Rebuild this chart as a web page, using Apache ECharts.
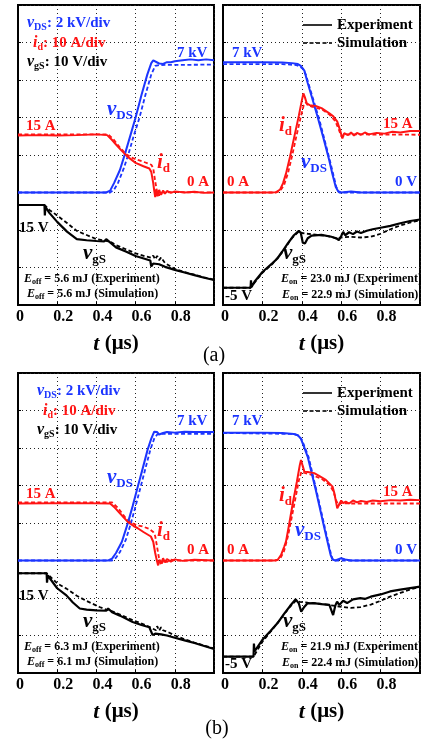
<!DOCTYPE html>
<html>
<head>
<meta charset="utf-8">
<script src="https://cdn.jsdelivr.net/npm/echarts@6/dist/echarts.min.js"></script>
<style>
  html, body { margin: 0; padding: 0; background: #fff; }
  #chart { width: 421px; height: 743px; }
</style>
</head>
<body>
<div id="chart"></div>
<script>
// ---- Waveform data: [time (µs), value] ----
// (a) turn-off: vDS in kV, id in A, vgS in V
const aOffVdsExp = [[0,0],[0.45,0],[0.47,0.1],[0.49,0.5],[0.52,1.2],[0.547,2.1],[0.575,3.1],[0.60,4.0],[0.63,5.2],[0.66,6.3],[0.68,6.9],[0.69,7.05],[0.70,7.0],[0.72,6.88],[0.74,6.86],[0.76,6.95],[0.78,6.95],[0.8,7.0],[0.84,7.05],[0.88,7.1],[0.92,7.05],[0.96,7.1],[1,7.05]];
const aOffVdsSim = [[0,0],[0.47,0],[0.49,0.15],[0.51,0.5],[0.54,1.3],[0.565,2.1],[0.59,3.0],[0.62,4.0],[0.65,5.2],[0.68,6.3],[0.70,6.75],[0.72,6.8],[1,6.82]];
const aOffIdExp = [[0,15.2],[0.1,15.3],[0.2,15.2],[0.3,15.3],[0.4,15.5],[0.455,15.3],[0.48,14],[0.5,12.8],[0.526,11.3],[0.56,9.5],[0.60,7.9],[0.64,7.0],[0.67,6.4],[0.68,5.5],[0.69,2.5],[0.695,0.5],[0.70,-1.2],[0.705,0.8],[0.712,-1.0],[0.72,0.7],[0.73,-0.6],[0.74,0.5],[0.75,-0.3],[0.76,0.4],[0.78,-0.1],[0.8,0.3],[0.85,0],[0.9,0.2],[0.95,-0.1],[1,0]];
const aOffIdSim = [[0,15.5],[0.46,15.5],[0.49,14],[0.52,12],[0.55,10.3],[0.58,9.3],[0.61,8.7],[0.65,8.0],[0.68,7.4],[0.69,6.5],[0.70,3],[0.71,0],[0.72,-0.8],[0.735,0.4],[0.75,-0.2],[0.77,0.1],[1,0]];
const aOffVgsExp = [[0,15],[0.135,15],[0.137,12.2],[0.14,14.5],[0.16,12.9],[0.2,10.5],[0.25,7.9],[0.3,5.9],[0.35,5.6],[0.4,5.4],[0.44,5.3],[0.45,5.9],[0.46,5.4],[0.5,3.7],[0.55,2.6],[0.6,1.4],[0.65,0.6],[0.675,0.2],[0.68,-1.4],[0.69,-0.6],[0.70,-1.0],[0.72,-0.8],[0.75,-1.5],[0.8,-2.3],[0.85,-3.0],[0.9,-3.7],[0.95,-4.4],[1,-5.0]];
const aOffVgsSim = [[0,15],[0.135,15],[0.14,14.6],[0.16,13.7],[0.2,12.2],[0.25,10.2],[0.3,8.1],[0.35,7.0],[0.4,5.9],[0.44,5.5],[0.45,5.8],[0.47,5.2],[0.5,4.3],[0.55,3.2],[0.6,2.1],[0.65,1.3],[0.68,0.9],[0.69,1.5],[0.70,0.5],[0.71,1.4],[0.72,0.3],[0.73,1.0],[0.75,-0.5],[0.8,-2.0],[0.85,-2.9],[0.9,-3.6],[0.95,-4.3],[1,-4.9]];

// (a) turn-on
const aOnVdsExp = [[0,6.95],[0.2,6.95],[0.3,6.93],[0.35,6.9],[0.38,6.85],[0.395,6.75],[0.413,6.5],[0.43,5.84],[0.455,4.95],[0.48,4.04],[0.51,2.9],[0.539,1.73],[0.555,1.0],[0.572,0.31],[0.585,0.05],[0.6,0],[0.65,0.05],[0.7,0],[1,0]];
const aOnVdsSim = [[0,6.85],[0.3,6.85],[0.37,6.8],[0.39,6.72],[0.405,6.6],[0.42,6.3],[0.44,5.6],[0.49,3.85],[0.545,1.6],[0.575,0.3],[0.59,0],[1,0]];
const aOnIdExp = [[0,0],[0.25,0],[0.27,0.1],[0.29,0.8],[0.305,2.5],[0.32,5.1],[0.34,9.5],[0.362,14.9],[0.385,20.5],[0.40,24.5],[0.408,26.4],[0.415,25.5],[0.425,23.8],[0.44,23.3],[0.47,23.1],[0.50,22.5],[0.54,21.1],[0.56,20.3],[0.58,18.9],[0.595,16.5],[0.606,14.4],[0.615,15.8],[0.625,16.2],[0.635,15.3],[0.65,16.0],[0.665,15.2],[0.68,15.9],[0.70,15.4],[0.72,16.0],[0.74,15.5],[0.78,15.9],[0.82,15.7],[0.86,16.2],[0.9,16.0],[0.95,16.4],[1,16.4]];
const aOnIdSim = [[0,0],[0.27,0],[0.29,0.4],[0.31,2.0],[0.33,5.2],[0.35,9.6],[0.372,14.9],[0.395,20.2],[0.41,23.3],[0.42,24.0],[0.43,23.3],[0.45,22.9],[0.5,22.2],[0.54,20.8],[0.57,19.0],[0.59,16.5],[0.60,15.0],[0.61,15.2],[0.63,15.5],[1,15.4]];
const aOnVgsExp = [[0,-5],[0.14,-5],[0.142,-3],[0.145,-4.8],[0.16,-3.4],[0.2,-0.8],[0.25,1.5],[0.276,2.8],[0.3,4.6],[0.33,6.9],[0.36,9.0],[0.385,10.2],[0.395,9.6],[0.405,7.0],[0.416,6.8],[0.43,8.2],[0.45,8.9],[0.5,9.1],[0.55,8.6],[0.575,8.2],[0.588,7.7],[0.6,8.8],[0.61,9.9],[0.62,9.0],[0.64,9.8],[0.66,9.3],[0.68,10.0],[0.7,9.6],[0.73,10.2],[0.76,10.6],[0.8,11.0],[0.85,11.5],[0.9,12.2],[0.95,12.8],[1,13.2]];
const aOnVgsSim = [[0,-5],[0.14,-5],[0.145,-4.5],[0.2,-1.0],[0.25,1.3],[0.3,4.4],[0.35,8.3],[0.385,10.0],[0.4,9.6],[0.43,9.4],[0.5,9.0],[0.55,8.6],[0.58,8.0],[0.6,8.4],[0.65,8.6],[0.7,8.4],[0.75,8.6],[0.8,9.4],[0.85,10.6],[0.9,11.6],[0.95,12.4],[1,13.0]];

// (b) turn-off
const bOffVdsExp = [[0,0],[0.46,0],[0.48,0.1],[0.50,0.4],[0.53,1.0],[0.56,1.98],[0.585,2.9],[0.611,3.93],[0.636,4.9],[0.661,5.9],[0.68,6.5],[0.695,6.87],[0.71,6.85],[0.72,6.72],[0.74,6.8],[0.76,6.85],[0.8,6.82],[0.85,6.87],[0.9,6.85],[1,6.85]];
const bOffVdsSim = [[0,0],[0.48,0],[0.50,0.15],[0.52,0.45],[0.55,1.1],[0.575,1.95],[0.60,2.9],[0.625,3.9],[0.65,4.9],[0.675,5.9],[0.695,6.5],[0.71,6.72],[0.73,6.75],[1,6.75]];
const bOffIdExp = [[0,15.2],[0.3,15.3],[0.47,15.2],[0.49,14.3],[0.52,12.6],[0.56,10.3],[0.59,9.2],[0.611,8.6],[0.64,7.6],[0.678,6.4],[0.69,5.0],[0.70,2.0],[0.707,0.3],[0.715,-1.3],[0.722,0.2],[0.73,-0.8],[0.74,0.6],[0.75,-0.5],[0.76,0.4],[0.78,-0.3],[0.8,0.3],[0.84,-0.1],[0.9,0.2],[1,0]];
const bOffIdSim = [[0,15.5],[0.48,15.5],[0.51,14],[0.55,11.3],[0.58,10.0],[0.61,9.4],[0.64,9.0],[0.67,8.4],[0.69,7.6],[0.70,6.5],[0.71,3.5],[0.72,0.5],[0.73,-1.2],[0.745,0.3],[0.76,-0.4],[0.78,0.2],[0.8,0],[1,0]];
const bOffVgsExp = [[0,15],[0.146,15],[0.148,12.5],[0.152,14.4],[0.18,12.4],[0.2,11.0],[0.247,9.1],[0.28,7.2],[0.315,5.6],[0.35,5.3],[0.4,5.1],[0.45,5.0],[0.46,5.6],[0.48,4.6],[0.52,3.7],[0.585,2.0],[0.63,1.2],[0.67,0.6],[0.687,-1.5],[0.70,-1.1],[0.73,-1.3],[0.76,-1.6],[0.8,-2.2],[0.85,-2.9],[0.9,-3.6],[0.95,-4.4],[1,-5.2]];
const bOffVgsSim = [[0,15],[0.146,15],[0.15,14.5],[0.2,12.3],[0.247,10.9],[0.3,9.0],[0.35,7.6],[0.416,6.0],[0.45,5.3],[0.46,5.8],[0.467,5.1],[0.52,4.0],[0.585,2.5],[0.65,1.2],[0.704,-0.2],[0.71,0.9],[0.72,-0.3],[0.73,0.6],[0.74,-0.2],[0.75,0.3],[0.77,-0.8],[0.8,-1.6],[0.85,-2.6],[0.9,-3.5],[0.95,-4.3],[1,-5.0]];

// (b) turn-on
const bOnVdsExp = [[0,6.82],[0.2,6.82],[0.3,6.8],[0.36,6.75],[0.38,6.68],[0.395,6.5],[0.41,6.1],[0.43,5.53],[0.471,3.76],[0.513,1.8],[0.535,0.8],[0.547,0.27],[0.556,0.05],[0.57,0],[0.6,0.12],[0.62,0.05],[0.65,0],[1,0]];
const bOnVdsSim = [[0,6.8],[0.36,6.75],[0.385,6.65],[0.40,6.45],[0.415,6.05],[0.435,5.5],[0.475,3.7],[0.517,1.75],[0.55,0.25],[0.56,0],[1,0]];
const bOnIdExp = [[0,0],[0.26,0],[0.278,0.2],[0.295,1.5],[0.31,3.6],[0.32,5.1],[0.337,10.0],[0.354,15.2],[0.375,21.0],[0.39,25.5],[0.396,26.8],[0.403,25.5],[0.413,23.7],[0.43,23.6],[0.463,23.3],[0.49,22.5],[0.522,21.5],[0.556,19.7],[0.565,18.0],[0.58,13.9],[0.59,15.0],[0.6,16.0],[0.61,15.3],[0.623,15.7],[0.64,15.2],[0.66,16.0],[0.68,15.5],[0.70,15.9],[0.73,15.6],[0.76,16.0],[0.8,15.8],[0.85,16.1],[0.9,16.0],[0.95,16.2],[1,16.1]];
const bOnIdSim = [[0,0],[0.27,0],[0.29,0.5],[0.31,2.5],[0.33,6.5],[0.35,11.8],[0.37,17.2],[0.385,21.3],[0.398,23.7],[0.41,23.4],[0.44,23.0],[0.5,21.8],[0.54,20.2],[0.56,18.5],[0.575,16.0],[0.585,14.8],[0.6,15.3],[0.65,15.2],[1,15.2]];
const bOnVgsExp = [[0,-5],[0.155,-5],[0.157,-1.5],[0.16,-3.6],[0.2,-0.5],[0.24,1.8],[0.276,3.9],[0.31,6.4],[0.34,8.5],[0.369,10.3],[0.385,9.2],[0.397,7.0],[0.41,8.1],[0.428,9.2],[0.46,9.3],[0.5,9.0],[0.54,8.8],[0.559,6.1],[0.57,8.6],[0.579,9.7],[0.59,8.8],[0.61,9.9],[0.63,9.3],[0.66,10.3],[0.697,10.6],[0.72,10.4],[0.75,11.0],[0.8,11.6],[0.848,12.4],[0.9,12.9],[0.95,13.3],[1,13.7]];
const bOnVgsSim = [[0,-5],[0.155,-5],[0.16,-4.6],[0.2,-1.0],[0.25,2.2],[0.3,5.6],[0.34,8.3],[0.369,9.9],[0.39,9.6],[0.43,9.4],[0.5,9.1],[0.55,8.7],[0.6,8.3],[0.65,8.0],[0.697,8.2],[0.75,8.9],[0.8,9.9],[0.848,11.0],[0.9,12.0],[0.95,12.9],[1,13.6]];

// Switching energies (mJ): [experiment, simulation]
const eOffA = ['5.6', '5.6'];
const eOnA = ['23.0', '22.9'];
const eOffB = ['6.3', '6.1'];
const eOnB = ['21.9', '22.4'];

// Time-axis tick labels (the last division is left unlabelled)
const tTickLabels = ['0', '0.2', '0.4', '0.6', '0.8', ''];

// ---- Styling ----
const FONT = 'Liberation Serif';
const BLUE = '#1c35ff';
const RED = '#ff1414';
const BLACK = '#000';

// Scope scales: 2 kV/div, 10 A/div, 10 V/div on an 8-division screen
const DIVS = 8;
const vdsRange = [-6, 10];     // 0 kV three divisions up
const idRange = [-30, 50];     // 0 A three divisions up

const panels = [
  { grid: { left: 18, top: 5, width: 196, height: 300 }, vgsMin: -11.67,
    vds: [aOffVdsExp, aOffVdsSim], id: [aOffIdExp, aOffIdSim], vgs: [aOffVgsExp, aOffVgsSim] },
  { grid: { left: 223, top: 5, width: 197, height: 300 }, vgsMin: -9.6,
    vds: [aOnVdsExp, aOnVdsSim], id: [aOnIdExp, aOnIdSim], vgs: [aOnVgsExp, aOnVgsSim] },
  { grid: { left: 18, top: 373, width: 196, height: 300 }, vgsMin: -11.6,
    vds: [bOffVdsExp, bOffVdsSim], id: [bOffIdExp, bOffIdSim], vgs: [bOffVgsExp, bOffVgsSim] },
  { grid: { left: 223, top: 373, width: 197, height: 300 }, vgsMin: -9.35,
    vds: [bOnVdsExp, bOnVdsSim], id: [bOnIdExp, bOnIdSim], vgs: [bOnVgsExp, bOnVgsSim] }
];

const grids = [], xAxes = [], yAxes = [], series = [];
const gridDots = { color: '#222', width: 1, type: [1, 3] };

panels.forEach((p, i) => {
  grids.push(Object.assign({
    show: true, borderColor: BLACK, borderWidth: 2, backgroundColor: 'transparent',
    containLabel: false, outerBoundsMode: 'none'
  }, p.grid));

  xAxes.push({
    gridIndex: i, type: 'value', min: 0, max: 1, interval: 0.2,
    name: '{t|t}{u| (μs)}', nameLocation: 'middle', nameGap: 28,
    nameTextStyle: {
      rich: {
        t: { fontFamily: FONT, fontSize: 22, fontWeight: 'bold', fontStyle: 'italic', color: BLACK },
        u: { fontFamily: FONT, fontSize: 21, fontWeight: 'bold', color: BLACK }
      }
    },
    axisLine: { show: true, lineStyle: { color: BLACK, width: 2 } },
    axisTick: { show: true, inside: true, length: 3, lineStyle: { color: BLACK, width: 1 } },
    splitLine: { show: true, lineStyle: gridDots },
    axisLabel: {
      margin: 4,
      formatter: (v, idx) => {
        const s = tTickLabels[idx] || '';
        if (!s) return '';
        return s === '0' ? '{z|' + s + '}' : '{d|' + s + '}';
      },
      rich: {
        z: { fontFamily: FONT, fontSize: 16, fontWeight: 'bold', color: BLACK, padding: [0, 0, 0, 4] },
        d: { fontFamily: FONT, fontSize: 16, fontWeight: 'bold', color: BLACK, padding: [0, 0, 0, 12] }
      }
    }
  });

  // visible division axis (grid) + hidden channel axes
  yAxes.push({
    gridIndex: i, type: 'value', min: 0, max: DIVS, interval: 1,
    axisLabel: { show: false },
    axisLine: { show: true, lineStyle: { color: BLACK, width: 2 } },
    axisTick: { show: true, inside: true, length: 3, lineStyle: { color: BLACK, width: 1 } },
    splitLine: { show: true, lineStyle: gridDots }
  });
  yAxes.push({ gridIndex: i, type: 'value', show: false, min: vdsRange[0], max: vdsRange[1] });
  yAxes.push({ gridIndex: i, type: 'value', show: false, min: idRange[0], max: idRange[1] });
  yAxes.push({ gridIndex: i, type: 'value', show: false, min: p.vgsMin, max: p.vgsMin + 10 * DIVS });

  const mk = (k, data, color, dashed, w) => ({
    type: 'line', xAxisIndex: i, yAxisIndex: 4 * i + k, data,
    symbol: 'none', silent: true, animation: false, clip: true,
    lineStyle: { color, width: w, type: dashed ? [4, 2.5] : 'solid' },
    z: dashed ? 2 : 3
  });
  series.push(mk(3, p.vgs[1], BLACK, true, 1.8));
  series.push(mk(3, p.vgs[0], BLACK, false, 2.2));
  series.push(mk(1, p.vds[1], BLUE, true, 1.8));
  series.push(mk(1, p.vds[0], BLUE, false, 2));
  series.push(mk(2, p.id[1], RED, true, 1.8));
  series.push(mk(2, p.id[0], RED, false, 2));
});

// ---- Text annotations ----
const R = {
  hv: { fontFamily: FONT, fontSize: 16, fontWeight: 'bold', fontStyle: 'italic' },
  hs: { fontFamily: FONT, fontSize: 10, fontWeight: 'bold', padding: [8, 0, 0, 0] },
  ht: { fontFamily: FONT, fontSize: 15, fontWeight: 'bold' },
  bv: { fontFamily: FONT, fontSize: 21, fontWeight: 'bold', fontStyle: 'italic' },
  bs: { fontFamily: FONT, fontSize: 13, fontWeight: 'bold', padding: [12, 0, 0, 0] },
  ev: { fontFamily: FONT, fontSize: 12, fontWeight: 'bold', fontStyle: 'italic' },
  es: { fontFamily: FONT, fontSize: 8, fontWeight: 'bold', padding: [6, 0, 0, 0] },
  et: { fontFamily: FONT, fontSize: 12, fontWeight: 'bold' },
  lg: { fontFamily: FONT, fontSize: 15, fontWeight: 'bold' }
};

function label(x, y, text, color, align) {
  return {
    type: 'text', x, y, silent: true, z: 50,
    style: {
      text, rich: R, fill: color, align: align || 'left', verticalAlign: 'middle',
      fontFamily: FONT, fontSize: 15, fontWeight: 'bold'
    }
  };
}

function offPanelText(dx, dy, hx, e) {
  return [
    label(hx, dy + 23, '{hv|v}{hs|DS}{ht|: 2 kV/div}', BLUE),
    label(hx + 6, dy + 43, '{hv|i}{hs|d}{ht|: 10 A/div}', RED),
    label(hx, dy + 62, '{hv|v}{hs|gS}{ht|: 10 V/div}', BLACK),
    label(dx + 177, dy + 53, '{ht|7 kV}', BLUE),
    label(dx + 107, dy + 110, '{bv|v}{bs|DS}', BLUE),
    label(dx + 26, dy + 126, '{ht|15 A}', RED),
    label(dx + 157, dy + 163, '{bv|i}{bs|d}', RED),
    label(dx + 187, dy + 182, '{ht|0 A}', RED),
    label(dx + 19, dy + 228, '{ht|15 V}', BLACK),
    label(dx + 83, dy + 254, '{bv|v}{bs|gS}', BLACK),
    label(dx + 24, dy + 279, '{ev|E}{es|off}{et| = ' + e[0] + ' mJ (Experiment)}', BLACK),
    label(dx + 27, dy + 294, '{ev|E}{es|off}{et| = ' + e[1] + ' mJ (Simulation)}', BLACK)
  ];
}

function onPanelText(dy, idY, vdsX, vdsY, e) {
  return [
    { type: 'line', silent: true, z: 50, shape: { x1: 303, y1: dy + 25, x2: 332, y2: dy + 25 },
      style: { stroke: '#333', lineWidth: 2 } },
    { type: 'line', silent: true, z: 50, shape: { x1: 303, y1: dy + 43, x2: 332, y2: dy + 43 },
      style: { stroke: '#333', lineWidth: 2, lineDash: [4, 2.5] } },
    label(337, dy + 25, '{lg|Experiment}', BLACK),
    label(337, dy + 43, '{lg|Simulation}', BLACK),
    label(232, dy + 53, '{ht|7 kV}', BLUE),
    label(279, dy + idY, '{bv|i}{bs|d}', RED),
    label(383, dy + 124, '{ht|15 A}', RED),
    label(vdsX, dy + vdsY, '{bv|v}{bs|DS}', BLUE),
    label(227, dy + 182, '{ht|0 A}', RED),
    label(395, dy + 182, '{ht|0 V}', BLUE),
    label(283, dy + 254, '{bv|v}{bs|gS}', BLACK),
    label(281, dy + 279, '{ev|E}{es|on}{et| = ' + e[0] + ' mJ (Experiment)}', BLACK),
    label(282, dy + 295, '{ev|E}{es|on}{et| = ' + e[1] + ' mJ (Simulation)}', BLACK),
    label(225, dy + 296, '{ht|-5 V}', BLACK)
  ];
}

const graphics = [].concat(
  offPanelText(0, 0, 27, eOffA),
  onPanelText(0, 126, 301, 163, eOnA),
  offPanelText(0, 368, 37, eOffB),
  onPanelText(368, 128, 295, 163, eOnB),
  [
    { type: 'text', x: 214, y: 356, silent: true,
      style: { text: '(a)', fill: BLACK, align: 'center', verticalAlign: 'middle', fontFamily: FONT, fontSize: 20 } },
    { type: 'text', x: 217, y: 729, silent: true,
      style: { text: '(b)', fill: BLACK, align: 'center', verticalAlign: 'middle', fontFamily: FONT, fontSize: 20 } }
  ]
);

const chart = echarts.init(document.getElementById('chart'), null, { renderer: 'canvas' });
chart.setOption({
  backgroundColor: '#fff',
  animation: false,
  grid: grids,
  xAxis: xAxes,
  yAxis: yAxes,
  series,
  graphic: { elements: graphics }
});
</script>
</body>
</html>
